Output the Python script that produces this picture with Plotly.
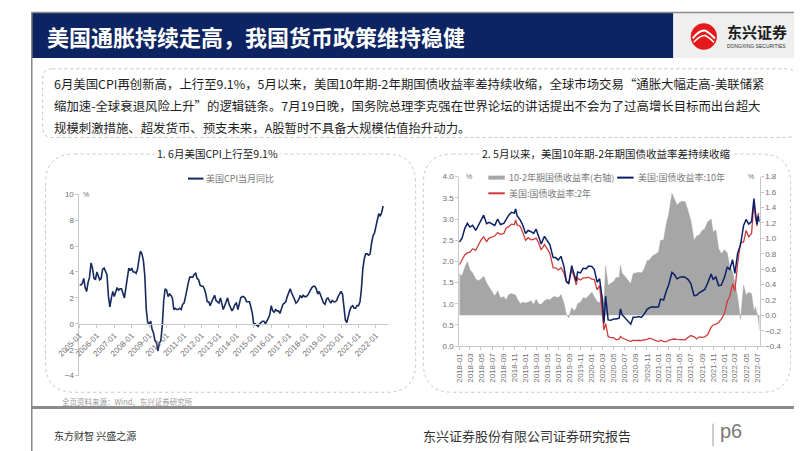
import pandas as pd
import plotly.graph_objects as go

# ---------------- data ----------------
cpi_start = "2005-01-01"
cpi_yoy = [
    3.0, 3.0, 3.1, 3.5, 2.8, 2.5, 3.2, 3.6, 4.7, 4.3, 3.5, 3.4,
    4.0, 3.6, 3.4, 3.5, 4.2, 4.3, 4.1, 3.8, 2.1, 1.3, 2.0, 2.5,
    2.1, 2.4, 2.8, 2.6, 2.7, 2.7, 2.4, 2.0, 2.8, 3.5, 4.3, 4.1,
    4.3, 4.0, 4.0, 3.9, 4.2, 5.0, 5.6, 5.4, 4.9, 3.7, 1.1, 0.1,
    0.0, 0.2, -0.4, -0.7, -1.3, -1.4, -2.1, -1.5, -1.3, -0.2, 1.8, 2.7,
    2.6, 2.1, 2.3, 2.2, 2.0, 1.1, 1.2, 1.1, 1.1, 1.2, 1.1, 1.5,
    1.6, 2.1, 2.7, 3.2, 3.6, 3.6, 3.6, 3.8, 3.9, 3.5, 3.4, 3.0,
    2.9, 2.9, 2.7, 2.3, 1.7, 1.7, 1.4, 1.7, 2.0, 2.2, 1.8, 1.7,
    1.6, 2.0, 1.5, 1.1, 1.4, 1.8, 2.0, 1.5, 1.2, 1.0, 1.2, 1.5,
    1.6, 1.1, 1.5, 2.0, 2.1, 2.1, 2.0, 1.7, 1.7, 1.7, 1.3, 0.8,
    -0.1, 0.0, -0.1, -0.2, 0.0, 0.1, 0.2, 0.2, 0.0, 0.2, 0.5, 0.7,
    1.4, 1.0, 0.9, 1.1, 1.0, 1.0, 0.8, 1.1, 1.5, 1.6, 1.7, 2.1,
    2.5, 2.7, 2.4, 2.2, 1.9, 1.6, 1.7, 1.9, 2.2, 2.0, 2.2, 2.1,
    2.1, 2.2, 2.4, 2.5, 2.8, 2.9, 2.9, 2.7, 2.3, 2.5, 2.2, 1.9,
    1.6, 1.5, 1.9, 2.0, 1.8, 1.6, 1.8, 1.7, 1.7, 1.8, 2.1, 2.3,
    2.5, 2.3, 1.5, 0.3, 0.1, 0.6, 1.0, 1.3, 1.4, 1.2, 1.2, 1.4,
    1.4, 1.7, 2.6, 4.2, 5.0, 5.4, 5.4, 5.3, 5.4, 6.2, 6.8, 7.0,
    7.5, 7.9, 8.5, 8.3, 8.6, 9.1,
]
cpi_dates = pd.date_range(cpi_start, periods=len(cpi_yoy), freq="MS")

ust_dates = [
    "2018-01-02", "2018-01-16", "2018-02-01", "2018-02-15", "2018-03-01", "2018-03-16",
    "2018-04-02", "2018-04-16", "2018-05-01", "2018-05-16", "2018-06-01", "2018-06-15",
    "2018-07-02", "2018-07-16", "2018-08-01", "2018-08-16", "2018-09-04", "2018-09-17",
    "2018-10-01", "2018-10-16", "2018-11-01", "2018-11-08", "2018-11-16", "2018-12-03",
    "2018-12-17", "2019-01-02", "2019-01-16", "2019-02-01", "2019-02-15", "2019-03-01",
    "2019-03-15", "2019-03-29", "2019-04-16", "2019-05-01", "2019-05-16", "2019-06-03",
    "2019-06-17", "2019-07-01", "2019-07-16", "2019-08-01", "2019-08-15", "2019-08-28",
    "2019-09-13", "2019-09-27", "2019-10-08", "2019-10-16", "2019-11-01", "2019-11-15",
    "2019-12-02", "2019-12-16", "2020-01-02", "2020-01-16", "2020-01-31", "2020-02-14",
    "2020-02-28", "2020-03-09", "2020-03-18", "2020-04-01", "2020-04-16", "2020-05-01",
    "2020-05-15", "2020-06-01", "2020-06-08", "2020-06-16", "2020-07-01", "2020-07-15",
    "2020-08-04", "2020-08-17", "2020-09-01", "2020-09-16", "2020-10-01", "2020-10-16",
    "2020-11-02", "2020-11-16", "2020-12-01", "2020-12-16", "2021-01-04", "2021-01-15",
    "2021-02-01", "2021-02-16", "2021-03-01", "2021-03-19", "2021-04-01", "2021-04-16",
    "2021-05-03", "2021-05-17", "2021-06-01", "2021-06-16", "2021-07-01", "2021-07-19",
    "2021-08-02", "2021-08-16", "2021-09-01", "2021-09-16", "2021-10-01", "2021-10-21",
    "2021-11-01", "2021-11-16", "2021-12-01", "2021-12-16", "2022-01-03", "2022-01-18",
    "2022-02-01", "2022-02-16", "2022-03-01", "2022-03-16", "2022-04-01", "2022-04-18",
    "2022-05-02", "2022-05-16", "2022-06-01", "2022-06-14", "2022-06-22", "2022-07-01",
    "2022-07-08", "2022-07-15",
]
ust_10y = [
    2.46, 2.54, 2.78, 2.90, 2.81, 2.85, 2.73, 2.83, 2.97, 3.09, 2.89, 2.92,
    2.87, 2.85, 3.00, 2.87, 2.90, 2.99, 3.09, 3.16, 3.14, 3.24, 3.08, 2.98,
    2.86, 2.66, 2.73, 2.70, 2.66, 2.76, 2.59, 2.41, 2.59, 2.50, 2.39, 2.09,
    2.09, 2.03, 2.12, 1.89, 1.53, 1.47, 1.90, 1.69, 1.54, 1.75, 1.73, 1.84,
    1.83, 1.89, 1.88, 1.81, 1.51, 1.59, 1.13, 0.54, 1.18, 0.62, 0.61, 0.64,
    0.64, 0.66, 0.88, 0.75, 0.68, 0.62, 0.52, 0.68, 0.68, 0.70, 0.68, 0.75,
    0.87, 0.91, 0.93, 0.92, 0.93, 1.11, 1.09, 1.30, 1.45, 1.74, 1.69, 1.59,
    1.63, 1.64, 1.62, 1.57, 1.48, 1.19, 1.20, 1.26, 1.31, 1.34, 1.48, 1.70,
    1.58, 1.63, 1.43, 1.44, 1.63, 1.87, 1.81, 2.04, 1.72, 2.19, 2.39, 2.85,
    2.99, 2.88, 2.94, 3.48, 3.16, 2.88, 3.08, 2.93,
]
ust_2y = [
    1.92, 2.03, 2.16, 2.20, 2.22, 2.30, 2.26, 2.38, 2.50, 2.58, 2.47, 2.55,
    2.57, 2.60, 2.68, 2.64, 2.66, 2.79, 2.82, 2.88, 2.87, 2.98, 2.86, 2.83,
    2.69, 2.50, 2.56, 2.51, 2.52, 2.55, 2.44, 2.27, 2.40, 2.29, 2.19, 1.85,
    1.85, 1.80, 1.85, 1.73, 1.52, 1.50, 1.80, 1.63, 1.45, 1.60, 1.56, 1.61,
    1.61, 1.63, 1.58, 1.57, 1.33, 1.43, 0.86, 0.38, 0.54, 0.23, 0.20, 0.20,
    0.15, 0.17, 0.23, 0.20, 0.17, 0.15, 0.11, 0.14, 0.13, 0.14, 0.13, 0.15,
    0.16, 0.19, 0.16, 0.13, 0.11, 0.14, 0.11, 0.11, 0.14, 0.16, 0.17, 0.16,
    0.16, 0.16, 0.15, 0.21, 0.25, 0.22, 0.17, 0.22, 0.21, 0.22, 0.27, 0.45,
    0.50, 0.52, 0.56, 0.64, 0.78, 1.06, 1.18, 1.47, 1.30, 1.95, 2.44, 2.46,
    2.73, 2.58, 2.66, 3.43, 3.05, 2.84, 3.12, 3.13,
]
spread_10_2 = [
    0.54, 0.51, 0.62, 0.70, 0.59, 0.55, 0.47, 0.45, 0.47, 0.51, 0.42, 0.37,
    0.30, 0.25, 0.32, 0.23, 0.24, 0.20, 0.27, 0.28, 0.27, 0.26, 0.22, 0.15,
    0.17, 0.16, 0.17, 0.19, 0.14, 0.21, 0.15, 0.14, 0.19, 0.21, 0.20, 0.24,
    0.24, 0.23, 0.27, 0.16, 0.01, -0.03, 0.10, 0.06, 0.09, 0.15, 0.17, 0.23,
    0.22, 0.26, 0.30, 0.24, 0.18, 0.16, 0.27, 0.16, 0.64, 0.39, 0.41, 0.44,
    0.49, 0.49, 0.65, 0.55, 0.51, 0.47, 0.41, 0.54, 0.55, 0.56, 0.55, 0.60,
    0.71, 0.72, 0.77, 0.79, 0.82, 0.97, 0.98, 1.19, 1.31, 1.58, 1.52, 1.43,
    1.47, 1.48, 1.47, 1.36, 1.23, 0.97, 1.03, 1.04, 1.10, 1.12, 1.21, 1.25,
    1.08, 1.11, 0.87, 0.80, 0.85, 0.81, 0.63, 0.57, 0.42, 0.24, -0.05, 0.39,
    0.26, 0.30, 0.28, 0.05, 0.11, 0.04, -0.04, -0.20,
]

left_title = "1. 6月美国CPI上行至9.1%"
right_title = "2. 5月以来，美国10年期-2年期国债收益率差持续收缩"
cpi_name = "美国CPI当月同比"
spread_name = "10-2年期国债收益率(右轴)"
y10_name = "美国:国债收益率:10年"
y2_name = "美国:国债收益率:2年"

page_title = "美国通胀持续走高，我国货币政策维持稳健"
body_lines = [
    "6月美国CPI再创新高，上行至9.1%，5月以来，美国10年期-2年期国债收益率差持续收缩，全球市场交易“通胀大幅走高-美联储紧",
    "缩加速-全球衰退风险上升”的逻辑链条。7月19日晚，国务院总理李克强在世界论坛的讲话提出不会为了过高增长目标而出台超大",
    "规模刺激措施、超发货币、预支未来，A股暂时不具备大规模估值抬升动力。",
]
source_text = "全页资料来源：Wind、东兴证券研究所"
footer_left = "东方财智 兴盛之源"
footer_mid = "东兴证券股份有限公司证券研究报告"
page_no = "p6"

# ---------------- helpers ----------------
W, H = 802, 451
def px(x):
    return x / W
def py(y):
    return 1 - y / H

def rrect(x0, y0, x1, y1, r):
    pts = [
        ("M", [(x0 + r, y0)]), ("L", [(x1 - r, y0)]), ("Q", [(x1, y0), (x1, y0 + r)]),
        ("L", [(x1, y1 - r)]), ("Q", [(x1, y1), (x1 - r, y1)]), ("L", [(x0 + r, y1)]),
        ("Q", [(x0, y1), (x0, y1 - r)]), ("L", [(x0, y0 + r)]), ("Q", [(x0, y0), (x0 + r, y0)]),
    ]
    s = ""
    for cmd, ps in pts:
        s += cmd + " " + " ".join(f"{px(a):.5f},{py(b):.5f}" for a, b in ps) + " "
    return s + "Z"

CJK = "Noto Sans CJK SC"
TICKF = dict(family="Liberation Sans, Arial", size=8, color="#6f6f6f")
AXC = "#c9c9c9"

fig = go.Figure()

# left chart
fig.add_trace(go.Scatter(x=cpi_dates, y=cpi_yoy, mode="lines", name=cpi_name,
                         line=dict(color="#172a5e", width=1.6), xaxis="x", yaxis="y",
                         showlegend=False))
# right chart: spread on base axis (right side), yield lines on overlaying axis (left side)
fig.add_trace(go.Scatter(x=ust_dates, y=spread_10_2, mode="lines", fill="tozeroy",
                         fillcolor="#a6a6a6", line=dict(color="#a6a6a6", width=0.5),
                         xaxis="x2", yaxis="y2", showlegend=False))
fig.add_trace(go.Scatter(x=ust_dates, y=ust_2y, mode="lines", line=dict(color="#d03c3c", width=1.3),
                         xaxis="x2", yaxis="y3", showlegend=False))
fig.add_trace(go.Scatter(x=ust_dates, y=ust_10y, mode="lines", line=dict(color="#0a1f66", width=1.5),
                         xaxis="x2", yaxis="y3", showlegend=False))

# domains
L_x = [px(50), px(368)]
L_y = [py(371), py(186)]
zero_pos = L_y[0] + (0 - (-4)) / 14 * (L_y[1] - L_y[0])
R_x = [px(442), px(752)]
R_y = [py(341), py(168)]

fig.update_layout(
    width=W, height=H, margin=dict(l=0, r=0, t=0, b=0),
    paper_bgcolor="white", plot_bgcolor="rgba(0,0,0,0)",
    xaxis=dict(domain=L_x, anchor="free", position=zero_pos, type="date",
               range=["2005-01-01", "2022-09-01"], tick0="2005-01-01", dtick="M12",
               tickformat="%Y-%m", tickangle=-45, tickfont=TICKF, showgrid=False,
               showline=True, linecolor=AXC, linewidth=1, ticks="outside", ticklen=3,
               tickcolor=AXC, zeroline=False),
    yaxis=dict(domain=L_y, anchor="x", range=[-4, 10], dtick=2, tickfont=TICKF,
               showgrid=False, showline=True, linecolor=AXC, ticks="outside", ticklen=3,
               tickcolor=AXC, zeroline=False),
    xaxis2=dict(domain=R_x, anchor="y3", type="date", range=["2018-01-01", "2022-07-15"],
                tick0="2018-01-01", dtick="M2", tickformat="%Y-%m", tickangle=-90,
                tickfont=TICKF, showgrid=False, showline=True, linecolor=AXC,
                ticks="outside", ticklen=3, tickcolor=AXC),
    yaxis2=dict(domain=R_y, anchor="x2", side="right", range=[-0.4, 1.8],
                dtick=0.2, tickformat=".1f", tickfont=TICKF, showgrid=False, showline=True,
                linecolor=AXC, ticks="outside", ticklen=3, tickcolor=AXC, zeroline=False),
    yaxis3=dict(domain=R_y, anchor="x2", overlaying="y2", side="left", range=[0, 4.0],
                dtick=0.5, tickformat=".1f", tickfont=TICKF, showgrid=False, showline=True,
                linecolor=AXC, ticks="outside", ticklen=3, tickcolor=AXC, zeroline=False),
)

shapes = []
annos = []

# frame & header
shapes.append(dict(type="rect", xref="paper", yref="paper", x0=px(0), x1=px(663), y0=py(47), y1=py(0),
                   fillcolor="#0c2461", line=dict(width=0), layer="below"))
shapes.append(dict(type="rect", xref="paper", yref="paper", x0=px(663), x1=px(802), y0=py(47), y1=py(0),
                   fillcolor="#efefef", line=dict(width=0), layer="below"))
shapes.append(dict(type="rect", xref="paper", yref="paper", x0=px(0.8), x1=px(801.2), y0=py(450.2), y1=py(0.5),
                   fillcolor="rgba(0,0,0,0)", line=dict(color="#8a8a8a", width=1.5)))
shapes.append(dict(type="line", xref="paper", yref="paper", x0=0, x1=1, y0=py(403.5), y1=py(403.5),
                   line=dict(color="#8c8c8c", width=3)))
shapes.append(dict(type="line", xref="paper", yref="paper", x0=px(704), x1=px(704), y0=py(443), y1=py(420),
                   line=dict(color="#9a9a9a", width=1)))

# logo
shapes.append(dict(type="circle", xref="paper", yref="paper", x0=px(681), x1=px(708), y0=py(38.5), y1=py(11.5),
                   fillcolor="#e3191c", line=dict(width=0)))
logo_path = (f"M {px(683)},{py(27)} Q {px(690)},{py(18)} {px(696)},{py(19)} "
             f"Q {px(700)},{py(21)} {px(706)},{py(27)}")
shapes.append(dict(type="path", xref="paper", yref="paper", path=logo_path,
                   line=dict(color="white", width=2)))
logo_path2 = (f"M {px(684)},{py(31)} Q {px(691)},{py(23)} {px(696)},{py(24)} "
              f"Q {px(700)},{py(26)} {px(705)},{py(31)}")
shapes.append(dict(type="path", xref="paper", yref="paper", path=logo_path2,
                   line=dict(color="white", width=1.5)))
annos.append(dict(text="<b>东兴证券</b>", x=px(716), y=py(20), xanchor="left", yanchor="middle",
                  font=dict(family=CJK, size=15, color="#1b1b1b")))
annos.append(dict(text="DONGXING SECURITIES", x=px(716), y=py(35), xanchor="left", yanchor="middle",
                  font=dict(family="Liberation Sans, Arial", size=5, color="#333333")))

annos.append(dict(text="<b>" + page_title + "</b>", x=px(14), y=py(24), xanchor="left", yanchor="middle",
                  font=dict(family=CJK, size=22, color="white")))

# text box
shapes.append(dict(type="path", xref="paper", yref="paper", path=rrect(12, 58, 790, 128, 10),
                   line=dict(color="#c4c4c4", width=1, dash="dot")))
for t, yy in zip(body_lines, [73, 96, 118]):
    annos.append(dict(text=t, x=px(22), y=py(yy), xanchor="left", yanchor="middle",
                      font=dict(family=CJK, size=12.4, color="#1e1e1e")))

# panels
shapes.append(dict(type="path", xref="paper", yref="paper", path=rrect(15, 145, 397, 388, 30),
                   line=dict(color="#c8c8c8", width=1, dash="dot"), layer="below"))
shapes.append(dict(type="path", xref="paper", yref="paper", path=rrect(405, 145, 784, 388, 30),
                   line=dict(color="#c8c8c8", width=1, dash="dot"), layer="below"))
annos.append(dict(text=left_title, x=px(193), y=py(144), xanchor="center", yanchor="middle",
                  bgcolor="white", borderpad=2,
                  font=dict(family=CJK, size=10.5, color="#1a1a1a")))
annos.append(dict(text=right_title, x=px(593), y=py(144), xanchor="center", yanchor="middle",
                  bgcolor="white", borderpad=2,
                  font=dict(family=CJK, size=10.5, color="#1a1a1a")))

LEGF = dict(family=CJK, size=9, color="#7a7a7a")
# left legend
shapes.append(dict(type="line", xref="paper", yref="paper", x0=px(162), x1=px(178), y0=py(170), y1=py(170),
                   line=dict(color="#172a5e", width=2)))
annos.append(dict(text=cpi_name, x=px(179), y=py(170), xanchor="left", yanchor="middle", font=LEGF))
annos.append(dict(text="%", x=px(57), y=py(186), xanchor="center", yanchor="middle",
                  font=dict(family="Liberation Sans, Arial", size=7, color="#6f6f6f")))

# right legend
shapes.append(dict(type="line", xref="paper", yref="paper", x0=px(472), x1=px(489), y0=py(169), y1=py(169),
                   line=dict(color="#a6a6a6", width=4)))
annos.append(dict(text=spread_name, x=px(491), y=py(169), xanchor="left", yanchor="middle", font=LEGF))
shapes.append(dict(type="line", xref="paper", yref="paper", x0=px(605), x1=px(622), y0=py(169), y1=py(169),
                   line=dict(color="#0a1f66", width=2)))
annos.append(dict(text=y10_name, x=px(624), y=py(169), xanchor="left", yanchor="middle", font=LEGF))
shapes.append(dict(type="line", xref="paper", yref="paper", x0=px(472), x1=px(489), y0=py(185), y1=py(185),
                   line=dict(color="#d03c3c", width=2)))
annos.append(dict(text=y2_name, x=px(491), y=py(185), xanchor="left", yanchor="middle", font=LEGF))
annos.append(dict(text="%", x=px(452), y=py(168), xanchor="center", yanchor="middle",
                  font=dict(family="Liberation Sans, Arial", size=7, color="#6f6f6f")))
annos.append(dict(text="%", x=px(743), y=py(168), xanchor="center", yanchor="middle",
                  font=dict(family="Liberation Sans, Arial", size=7, color="#6f6f6f")))

# footer
annos.append(dict(text=source_text, x=px(30), y=py(397), xanchor="left", yanchor="middle",
                  font=dict(family=CJK, size=7.5, color="#9a9a9a")))
annos.append(dict(text=footer_left, x=px(22), y=py(432), xanchor="left", yanchor="middle",
                  font=dict(family=CJK, size=10, color="#333333")))
annos.append(dict(text=footer_mid, x=px(403), y=py(432), xanchor="left", yanchor="middle",
                  font=dict(family=CJK, size=13, color="#333333")))
annos.append(dict(text=page_no, x=px(709), y=py(428), xanchor="left", yanchor="middle",
                  font=dict(family="Liberation Sans, Arial", size=20, color="#7a7a7a")))

for a in annos:
    a.setdefault("xref", "paper")
    a.setdefault("yref", "paper")
    a.setdefault("showarrow", False)

fig.update_layout(shapes=shapes, annotations=annos)
fig.write_html("out.html")
